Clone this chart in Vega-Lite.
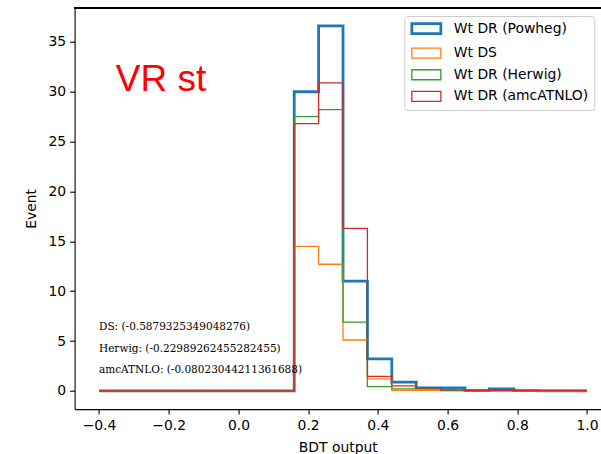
{
  "$schema": "https://vega.github.io/schema/vega-lite/v6.json",
  "autosize": "none",
  "width": 526.4,
  "height": 401.4,
  "padding": {"left": 74.6, "top": 7.7, "right": 0, "bottom": 44.9},
  "background": "white",
  "config": {
    "view": {"stroke": null},
    "font": "DejaVu Sans",
    "axis": {
      "grid": false,
      "domainColor": "black",
      "domainWidth": 1.1,
      "tickColor": "black",
      "tickWidth": 1.1,
      "tickSize": 5,
      "labelFont": "DejaVu Sans",
      "labelFontSize": 13.9,
      "labelColor": "black",
      "labelPadding": 4,
      "titleFont": "DejaVu Sans",
      "titleFontSize": 13.9,
      "titleFontWeight": "normal",
      "titleColor": "black"
    },
    "legend": {
      "title": null,
      "orient": "none",
      "legendX": 329.7,
      "legendY": 8.3,
      "padding": 5.6,
      "strokeColor": "#cccccc",
      "fillColor": "white",
      "cornerRadius": 3,
      "labelFont": "DejaVu Sans",
      "labelFontSize": 13.9,
      "labelColor": "black",
      "labelOffset": 30,
      "rowPadding": 5.6,
      "symbolType": "M-1,-1L4.8,-1L4.8,1L-1,1Z",
      "symbolSize": 100,
      "symbolFillColor": "white"
    }
  },
  "datasets": {
    "hist": [
      {"series": "Wt DR (Powheg)", "x": -0.4, "y": 0},
      {"series": "Wt DR (Powheg)", "x": -0.33, "y": 0},
      {"series": "Wt DR (Powheg)", "x": -0.26, "y": 0},
      {"series": "Wt DR (Powheg)", "x": -0.19, "y": 0},
      {"series": "Wt DR (Powheg)", "x": -0.12, "y": 0},
      {"series": "Wt DR (Powheg)", "x": -0.05, "y": 0},
      {"series": "Wt DR (Powheg)", "x": 0.02, "y": 0},
      {"series": "Wt DR (Powheg)", "x": 0.09, "y": 0},
      {"series": "Wt DR (Powheg)", "x": 0.16, "y": 30.0},
      {"series": "Wt DR (Powheg)", "x": 0.23, "y": 36.6},
      {"series": "Wt DR (Powheg)", "x": 0.30, "y": 11.0},
      {"series": "Wt DR (Powheg)", "x": 0.37, "y": 3.2},
      {"series": "Wt DR (Powheg)", "x": 0.44, "y": 0.87},
      {"series": "Wt DR (Powheg)", "x": 0.51, "y": 0.3},
      {"series": "Wt DR (Powheg)", "x": 0.58, "y": 0.3},
      {"series": "Wt DR (Powheg)", "x": 0.65, "y": 0.02},
      {"series": "Wt DR (Powheg)", "x": 0.72, "y": 0.2},
      {"series": "Wt DR (Powheg)", "x": 0.79, "y": 0.02},
      {"series": "Wt DR (Powheg)", "x": 0.86, "y": 0},
      {"series": "Wt DR (Powheg)", "x": 0.93, "y": 0},
      {"series": "Wt DR (Powheg)", "x": 1.0, "y": 0},
      {"series": "Wt DS", "x": -0.4, "y": 0},
      {"series": "Wt DS", "x": -0.33, "y": 0},
      {"series": "Wt DS", "x": -0.26, "y": 0},
      {"series": "Wt DS", "x": -0.19, "y": 0},
      {"series": "Wt DS", "x": -0.12, "y": 0},
      {"series": "Wt DS", "x": -0.05, "y": 0},
      {"series": "Wt DS", "x": 0.02, "y": 0},
      {"series": "Wt DS", "x": 0.09, "y": 0},
      {"series": "Wt DS", "x": 0.16, "y": 14.5},
      {"series": "Wt DS", "x": 0.23, "y": 12.7},
      {"series": "Wt DS", "x": 0.30, "y": 5.1},
      {"series": "Wt DS", "x": 0.37, "y": 1.2},
      {"series": "Wt DS", "x": 0.44, "y": 0.04},
      {"series": "Wt DS", "x": 0.51, "y": 0.06},
      {"series": "Wt DS", "x": 0.58, "y": 0},
      {"series": "Wt DS", "x": 0.65, "y": 0},
      {"series": "Wt DS", "x": 0.72, "y": 0},
      {"series": "Wt DS", "x": 0.79, "y": 0},
      {"series": "Wt DS", "x": 0.86, "y": 0},
      {"series": "Wt DS", "x": 0.93, "y": 0},
      {"series": "Wt DS", "x": 1.0, "y": 0},
      {"series": "Wt DR (Herwig)", "x": -0.4, "y": 0},
      {"series": "Wt DR (Herwig)", "x": -0.33, "y": 0},
      {"series": "Wt DR (Herwig)", "x": -0.26, "y": 0},
      {"series": "Wt DR (Herwig)", "x": -0.19, "y": 0},
      {"series": "Wt DR (Herwig)", "x": -0.12, "y": 0},
      {"series": "Wt DR (Herwig)", "x": -0.05, "y": 0},
      {"series": "Wt DR (Herwig)", "x": 0.02, "y": 0},
      {"series": "Wt DR (Herwig)", "x": 0.09, "y": 0},
      {"series": "Wt DR (Herwig)", "x": 0.16, "y": 27.5},
      {"series": "Wt DR (Herwig)", "x": 0.23, "y": 28.2},
      {"series": "Wt DR (Herwig)", "x": 0.30, "y": 6.9},
      {"series": "Wt DR (Herwig)", "x": 0.37, "y": 0.43},
      {"series": "Wt DR (Herwig)", "x": 0.44, "y": 0.2},
      {"series": "Wt DR (Herwig)", "x": 0.51, "y": 0.2},
      {"series": "Wt DR (Herwig)", "x": 0.58, "y": 0.05},
      {"series": "Wt DR (Herwig)", "x": 0.65, "y": 0},
      {"series": "Wt DR (Herwig)", "x": 0.72, "y": 0},
      {"series": "Wt DR (Herwig)", "x": 0.79, "y": 0},
      {"series": "Wt DR (Herwig)", "x": 0.86, "y": 0},
      {"series": "Wt DR (Herwig)", "x": 0.93, "y": 0},
      {"series": "Wt DR (Herwig)", "x": 1.0, "y": 0},
      {"series": "Wt DR (amcATNLO)", "x": -0.4, "y": 0},
      {"series": "Wt DR (amcATNLO)", "x": -0.33, "y": 0},
      {"series": "Wt DR (amcATNLO)", "x": -0.26, "y": 0},
      {"series": "Wt DR (amcATNLO)", "x": -0.19, "y": 0},
      {"series": "Wt DR (amcATNLO)", "x": -0.12, "y": 0},
      {"series": "Wt DR (amcATNLO)", "x": -0.05, "y": 0},
      {"series": "Wt DR (amcATNLO)", "x": 0.02, "y": 0},
      {"series": "Wt DR (amcATNLO)", "x": 0.09, "y": 0},
      {"series": "Wt DR (amcATNLO)", "x": 0.16, "y": 26.8},
      {"series": "Wt DR (amcATNLO)", "x": 0.23, "y": 30.9},
      {"series": "Wt DR (amcATNLO)", "x": 0.30, "y": 16.3},
      {"series": "Wt DR (amcATNLO)", "x": 0.37, "y": 1.45},
      {"series": "Wt DR (amcATNLO)", "x": 0.44, "y": 0.5},
      {"series": "Wt DR (amcATNLO)", "x": 0.51, "y": 0.3},
      {"series": "Wt DR (amcATNLO)", "x": 0.58, "y": 0.1},
      {"series": "Wt DR (amcATNLO)", "x": 0.65, "y": 0.06},
      {"series": "Wt DR (amcATNLO)", "x": 0.72, "y": 0.05},
      {"series": "Wt DR (amcATNLO)", "x": 0.79, "y": 0.05},
      {"series": "Wt DR (amcATNLO)", "x": 0.86, "y": 0.05},
      {"series": "Wt DR (amcATNLO)", "x": 0.93, "y": 0.05},
      {"series": "Wt DR (amcATNLO)", "x": 1.0, "y": 0.05}
    ],
    "title": [
      {"x": -0.352, "y": 30.1, "label": "VR st"}
    ],
    "notes": [
      {"x": -0.4, "y": 6.1, "label": "DS: (-0.5879325349048276)"},
      {"x": -0.4, "y": 3.9, "label": "Herwig: (-0.22989262455282455)"},
      {"x": -0.4, "y": 1.8, "label": "amcATNLO: (-0.08023044211361688)"}
    ]
  },
  "layer": [
    {
      "data": {"name": "hist"},
      "mark": {"type": "rule"},
      "encoding": {
        "y": {"datum": 38.43, "type": "quantitative", "scale": {"domain": [-1.83, 38.43], "nice": false, "zero": false}}
      }
    },
    {
      "data": {"name": "hist"},
      "mark": {"type": "line", "interpolate": "step-after", "strokeJoin": "miter", "strokeCap": "butt"},
      "encoding": {
        "x": {
          "field": "x", "type": "quantitative",
          "scale": {"domain": [-0.47, 1.0401], "nice": false, "zero": false},
          "axis": {"title": "BDT output", "values": [-0.4, -0.2, 0, 0.2, 0.4, 0.6, 0.8, 1.0], "format": ".1f", "titlePadding": 8}
        },
        "y": {
          "field": "y", "type": "quantitative",
          "scale": {"domain": [-1.83, 38.43], "nice": false, "zero": false},
          "axis": {"title": "Event", "values": [0, 5, 10, 15, 20, 25, 30, 35], "titlePadding": 9}
        },
        "color": {
          "field": "series", "type": "nominal",
          "scale": {
            "domain": ["Wt DR (Powheg)", "Wt DS", "Wt DR (Herwig)", "Wt DR (amcATNLO)"],
            "range": ["#1f77b4", "#ff7f0e", "#2ca02c", "#d62728"]
          },
          "legend": {"title": null}
        },
        "strokeWidth": {
          "field": "series", "type": "nominal",
          "scale": {
            "type": "ordinal",
            "domain": ["Wt DR (Powheg)", "Wt DS", "Wt DR (Herwig)", "Wt DR (amcATNLO)"],
            "range": [2.8, 1.3, 1.3, 1.3]
          },
          "legend": {"title": null}
        },
        "order": {"field": "x", "type": "quantitative"}
      }
    },
    {
      "data": {"name": "title"},
      "mark": {"type": "text", "align": "left", "baseline": "alphabetic", "font": "Liberation Sans", "fontSize": 37, "color": "red"},
      "encoding": {
        "x": {"field": "x", "type": "quantitative"},
        "y": {"field": "y", "type": "quantitative"},
        "text": {"field": "label"}
      }
    },
    {
      "data": {"name": "notes"},
      "mark": {"type": "text", "align": "left", "baseline": "alphabetic", "font": "DejaVu Serif", "fontSize": 10.5, "color": "black"},
      "encoding": {
        "x": {"field": "x", "type": "quantitative"},
        "y": {"field": "y", "type": "quantitative"},
        "text": {"field": "label"}
      }
    }
  ]
}
